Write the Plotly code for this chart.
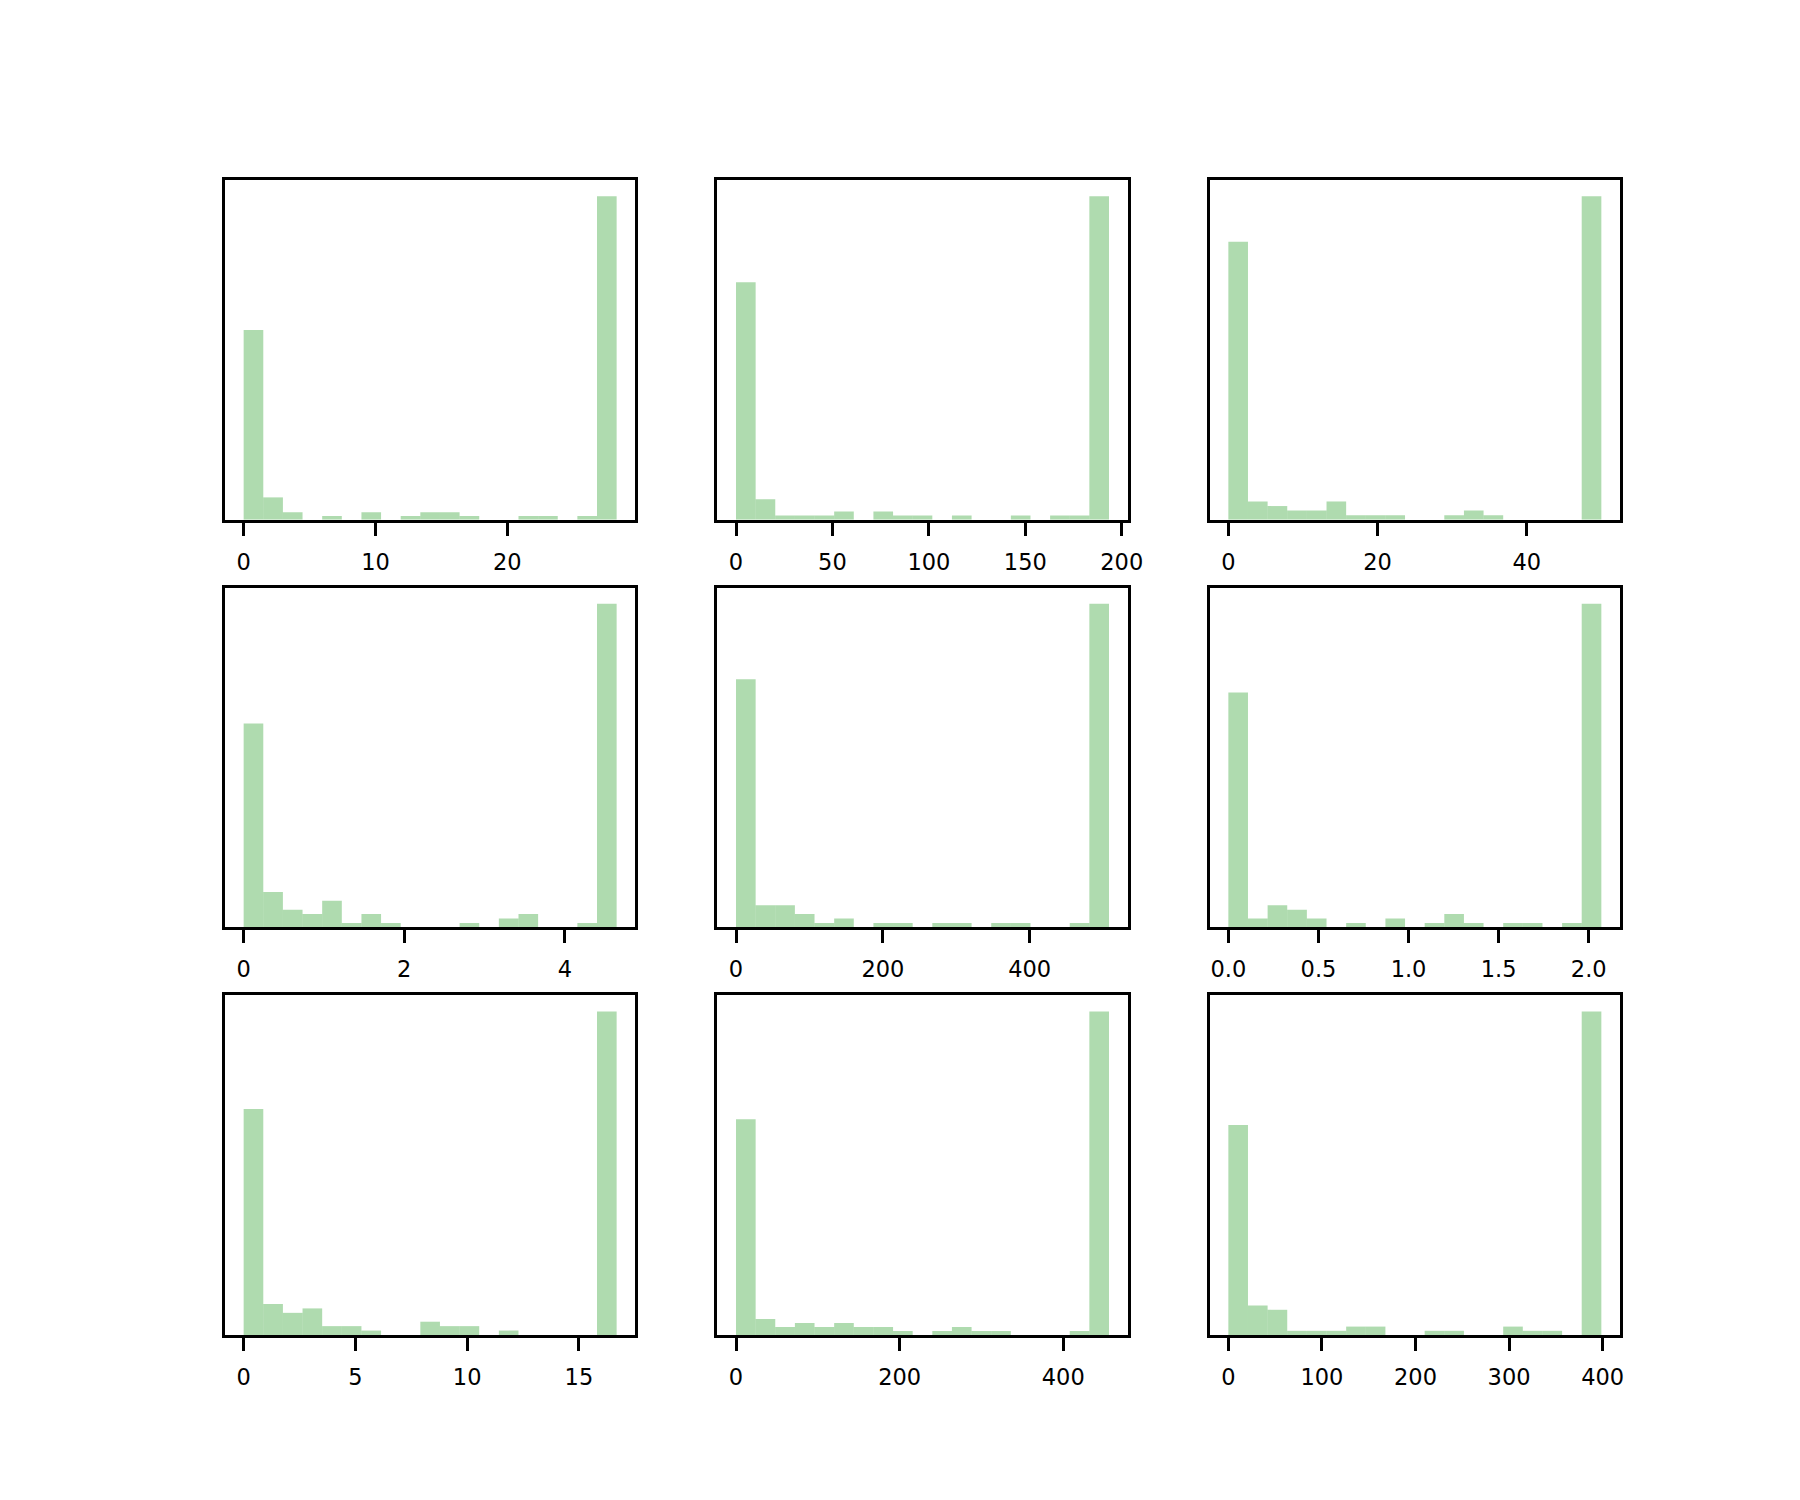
import numpy as np
import plotly.graph_objects as go

# ---- data (19 bins per panel, min value 0) ----
n_bins = 19
x_min = [0, 0, 0, 0, 0, 0, 0, 0, 0]
x_max = [28.3, 193.4, 50.0, 4.644, 508.0, 2.07, 16.69, 455.9, 398.6]

counts_1 = [51, 6, 2, 0, 1, 0, 2, 0, 1, 2, 2, 1, 0, 0, 1, 1, 0, 1, 87]
counts_2 = [58, 5, 1, 1, 1, 2, 0, 2, 1, 1, 0, 1, 0, 0, 1, 0, 1, 1, 79]
counts_3 = [61, 4, 3, 2, 2, 4, 1, 1, 1, 0, 0, 1, 2, 1, 0, 0, 0, 0, 71]
counts_4 = [46, 8, 4, 3, 6, 1, 3, 1, 0, 0, 0, 1, 0, 2, 3, 0, 0, 1, 73]
counts_5 = [56, 5, 5, 3, 1, 2, 0, 1, 1, 0, 1, 1, 0, 1, 1, 0, 0, 1, 73]
counts_6 = [53, 2, 5, 4, 2, 0, 1, 0, 2, 0, 1, 3, 1, 0, 1, 1, 0, 1, 73]
counts_7 = [51, 7, 5, 6, 2, 2, 1, 0, 0, 3, 2, 2, 0, 1, 0, 0, 0, 0, 73]
counts_8 = [54, 4, 2, 3, 2, 3, 2, 2, 1, 0, 1, 2, 1, 1, 0, 0, 0, 1, 81]
counts_9 = [50, 7, 6, 1, 1, 1, 2, 2, 0, 0, 1, 1, 0, 0, 2, 1, 1, 0, 77]
all_counts = [counts_1, counts_2, counts_3, counts_4, counts_5,
              counts_6, counts_7, counts_8, counts_9]

tick_vals = [
    [0, 10, 20], [0, 50, 100, 150, 200], [0, 20, 40],
    [0, 2, 4], [0, 200, 400], [0, 0.5, 1.0, 1.5, 2.0],
    [0, 5, 10, 15], [0, 200, 400], [0, 100, 200, 300, 400],
]
tick_text = [
    ["0", "10", "20"], ["0", "50", "100", "150", "200"], ["0", "20", "40"],
    ["0", "2", "4"], ["0", "200", "400"], ["0.0", "0.5", "1.0", "1.5", "2.0"],
    ["0", "5", "10", "15"], ["0", "200", "400"], ["0", "100", "200", "300", "400"],
]

# ---- layout geometry (matplotlib default subplot params) ----
W, H = 1800, 1500
left, right, bottom, top = 0.125, 0.9, 0.11, 0.88
wsp, hsp = 0.2, 0.2
cw = (right - left) / (3 + 2 * wsp)
ch = (top - bottom) / (3 + 2 * hsp)

bar_color = "rgba(44,160,44,0.38)"
fig = go.Figure()
layout = dict(
    width=W, height=H, autosize=False,
    margin=dict(l=0, r=0, t=0, b=0, autoexpand=False),
    paper_bgcolor="white", plot_bgcolor="white",
    showlegend=False,
    font=dict(family="DejaVu Sans", size=22.5, color="black"),
)

for i in range(9):
    r, c = divmod(i, 3)
    edges = np.linspace(x_min[i], x_max[i], n_bins + 1)
    centers = (edges[:-1] + edges[1:]) / 2
    widths = np.diff(edges)
    cnt = all_counts[i]
    xa = "x" if i == 0 else f"x{i+1}"
    ya = "y" if i == 0 else f"y{i+1}"
    fig.add_trace(go.Bar(
        x=centers, y=cnt, width=widths,
        marker=dict(color=bar_color, line=dict(width=0)),
        xaxis=xa, yaxis=ya, hoverinfo="x+y",
    ))
    span = x_max[i] - x_min[i]
    x0 = left + c * cw * (1 + wsp)
    y1 = top - r * ch * (1 + hsp)
    axis_common = dict(showline=True, linecolor="black", linewidth=2.8,
                       mirror=True, showgrid=False, zeroline=False)
    layout["xaxis" if i == 0 else f"xaxis{i+1}"] = dict(
        domain=[x0, x0 + cw],
        range=[x_min[i] - 0.05 * span, x_max[i] + 0.05 * span],
        anchor=ya, tickmode="array", tickvals=tick_vals[i], ticktext=tick_text[i],
        ticks="outside", ticklen=13, tickwidth=2.8, tickcolor="black",
        ticklabelstandoff=7,
        **axis_common,
    )
    layout["yaxis" if i == 0 else f"yaxis{i+1}"] = dict(
        domain=[y1 - ch, y1],
        range=[0, max(cnt) * 1.05],
        anchor=xa, showticklabels=False, ticks="",
        **axis_common,
    )

fig.update_layout(**layout)
fig.write_html("out.html", config={"responsive": False})
